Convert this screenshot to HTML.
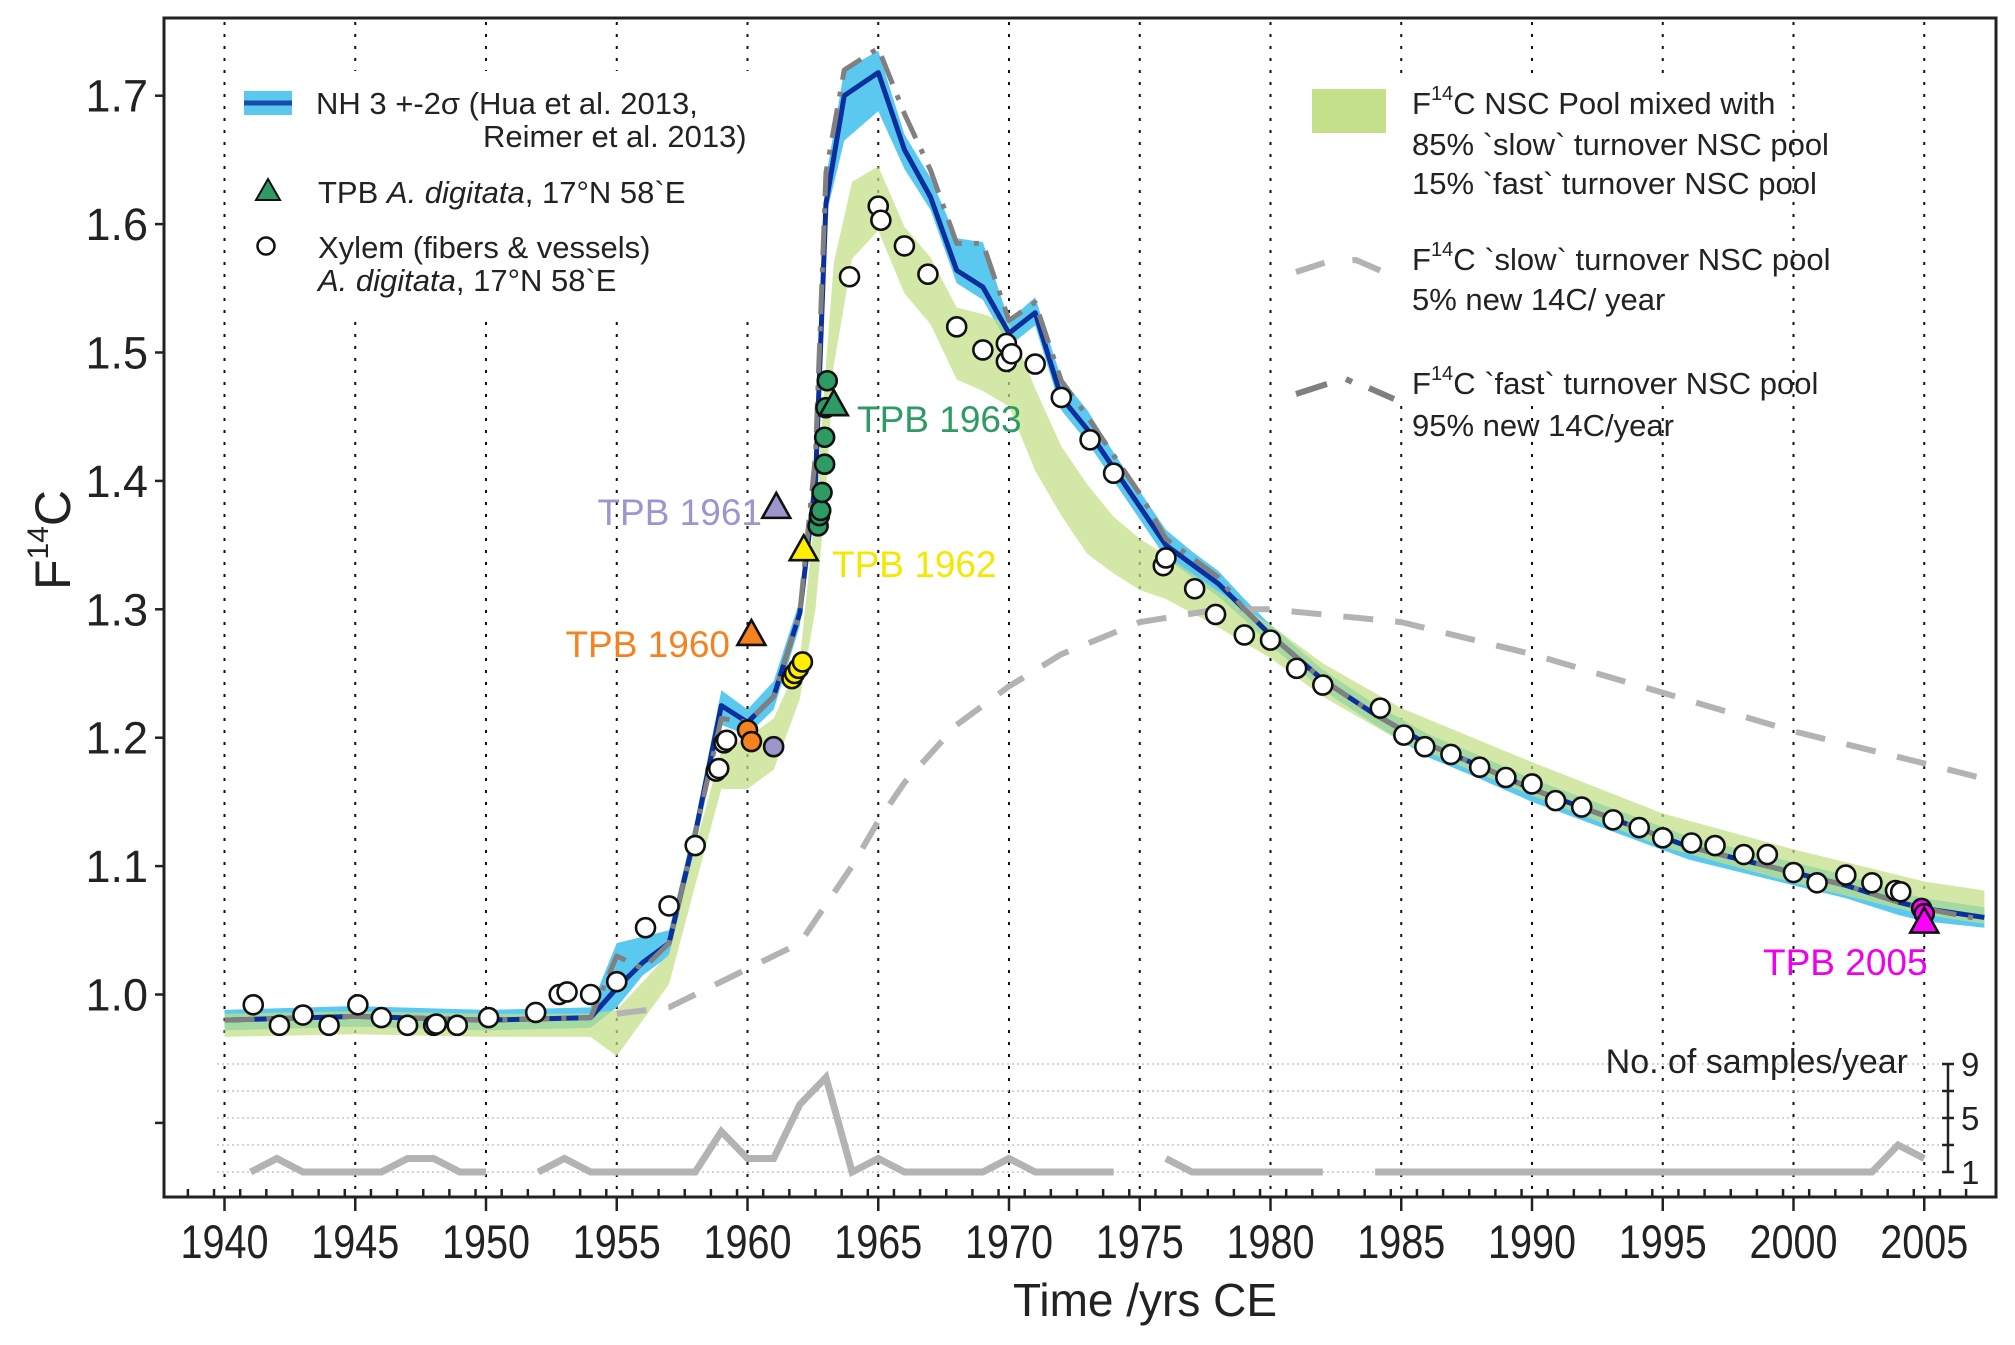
<!DOCTYPE html>
<html><head><meta charset="utf-8"><style>
html,body{margin:0;padding:0;background:#fff}
svg{display:block;font-family:"Liberation Sans",sans-serif}
</style></head><body>
<svg id="chart" width="2015" height="1345" viewBox="0 0 2015 1345" xmlns="http://www.w3.org/2000/svg">
<g id="grid"></g>
<g id="legbg">
<rect x="236" y="71" width="526" height="245" fill="#fff"/>
<rect x="1292" y="74" width="470" height="330" fill="#fff"/>
</g>
<g id="series"></g>
<g id="axes"></g>
<text transform="translate(70,540) rotate(-90)" font-size="50" text-anchor="middle" fill="#222">F<tspan font-size="30" dy="-22">14</tspan><tspan dy="22">C</tspan></text>
<g id="legend">
 <g>
  <rect x="244" y="91" width="48" height="24" fill="#5bc8f0"/>
  <line x1="244" y1="103" x2="292" y2="103" stroke="#1a4aa8" stroke-width="5"/>
  <text x="316" y="114" font-size="31" fill="#222">NH 3 +-2σ (Hua et al. 2013,</text>
  <text x="483" y="147" font-size="31" fill="#222">Reimer et al. 2013)</text>
 </g>
 <g>
  <polygon points="268,179 280,200 256,200" fill="#2e9a64" stroke="#111" stroke-width="2"/>
  <text x="318" y="203" font-size="31" fill="#222">TPB <tspan font-style="italic">A. digitata</tspan>, 17°N 58`E</text>
 </g>
 <g>
  <circle cx="266" cy="246" r="8.5" fill="#fff" stroke="#111" stroke-width="2.5"/>
  <text x="318" y="258" font-size="31" fill="#222">Xylem (fibers &amp; vessels)</text>
  <text x="318" y="291" font-size="31" fill="#222"><tspan font-style="italic">A. digitata</tspan>, 17°N 58`E</text>
 </g>
 <g>
  <rect x="1312" y="89" width="74" height="44" fill="#c5e08a"/>
  <text x="1412" y="114" font-size="31" fill="#222">F<tspan font-size="20" dy="-14">14</tspan><tspan dy="14">C NSC Pool mixed with</tspan></text>
  <text x="1412" y="155" font-size="31" fill="#222">85% `slow` turnover NSC pool</text>
  <text x="1412" y="194" font-size="31" fill="#222">15% `fast` turnover NSC pool</text>
 </g>
 <g>
  <polyline points="1296,272 1327,262 1356,260 1386,273" fill="none" stroke="#b3b3b3" stroke-width="6" stroke-dasharray="30,28"/>
  <text x="1412" y="270" font-size="31" fill="#222">F<tspan font-size="20" dy="-14">14</tspan><tspan dy="14">C `slow` turnover NSC pool</tspan></text>
  <text x="1412" y="310" font-size="31" fill="#222">5% new 14C/ year</text>
 </g>
 <g>
  <line x1="1296" y1="394" x2="1327" y2="384" stroke="#808080" stroke-width="6"/>
  <line x1="1346" y1="379" x2="1352" y2="382" stroke="#808080" stroke-width="6"/>
  <line x1="1369" y1="388" x2="1394" y2="399" stroke="#808080" stroke-width="6"/>
  <text x="1412" y="394" font-size="31" fill="#222">F<tspan font-size="20" dy="-14">14</tspan><tspan dy="14">C `fast` turnover NSC pool</tspan></text>
  <text x="1412" y="436" font-size="31" fill="#222">95% new 14C/year</text>
 </g>
</g>
<g id="labels">
 <text x="857" y="432" font-size="37" fill="#2e9a64">TPB 1963</text>
 <text x="762" y="525" font-size="37" fill="#9b97cc" text-anchor="end">TPB 1961</text>
 <text x="832" y="577" font-size="37" fill="#f5e800">TPB 1962</text>
 <text x="730" y="657" font-size="37" fill="#f5821f" text-anchor="end">TPB 1960</text>
 <text x="1763" y="975" font-size="37" fill="#ee00ee">TPB 2005</text>
 <text x="1908" y="1073" font-size="34" fill="#222" text-anchor="end">No. of samples/year</text>
</g>
<script>
// ---------- data ----------
const nhYears=[1940,1945,1950,1954,1955,1956,1957,1958,1959,1960,1961,1962,1962.6,1963,1963.7,1965,1966,1967,1968,1969,1970,1971,1972,1973,1974,1975,1976,1977,1978,1979,1980,1982,1984,1986,1988,1990,1992,1994,1996,1998,2000,2002,2004,2005,2007.3];
const nhValues=[.980,.983,.980,.982,1.005,1.025,1.04,1.125,1.225,1.212,1.232,1.297,1.40,1.616,1.70,1.718,1.658,1.621,1.564,1.551,1.515,1.531,1.465,1.44,1.41,1.38,1.35,1.335,1.32,1.30,1.28,1.245,1.218,1.195,1.178,1.16,1.145,1.13,1.115,1.105,1.095,1.085,1.072,1.067,1.06];
const nhErrUp=[.008,.008,.008,.008,.035,.02,.01,.01,.012,.01,.012,.01,.01,.02,.02,.017,.012,.015,.025,.035,.01,.012,.015,.015,.012,.012,.012,.01,.01,.008,.008,.008,.008,.008,.008,.008,.008,.008,.008,.008,.008,.008,.008,.008,.008];
const nhErrDn=[.008,.008,.008,.008,.015,.01,.01,.01,.015,.01,.01,.01,.01,.01,.035,.03,.015,.01,.01,.01,.01,.01,.01,.01,.01,.01,.01,.01,.01,.008,.008,.008,.008,.01,.01,.01,.01,.01,.01,.01,.01,.01,.01,.01,.008];
const fastValues=[.980,.983,.980,.982,1.03,1.02,1.04,1.125,1.215,1.212,1.232,1.297,1.42,1.64,1.72,1.737,1.686,1.642,1.585,1.585,1.525,1.539,1.478,1.45,1.42,1.39,1.355,1.34,1.325,1.30,1.28,1.245,1.218,1.195,1.178,1.16,1.145,1.13,1.115,1.105,1.095,1.085,1.072,1.067,1.058];
const mixYears=[1940,1945,1950,1954,1955,1956,1957,1958,1959,1960,1961,1962,1962.6,1963,1963.3,1964,1965,1966,1967,1968,1969,1970,1971,1972,1973,1974,1975,1976,1978,1980,1982,1985,1990,1995,2000,2005,2007.3];
const mixMid=[.976,.978,.976,.976,.97,.995,1.02,1.10,1.175,1.18,1.195,1.245,1.34,1.44,1.53,1.603,1.62,1.572,1.548,1.507,1.50,1.49,1.44,1.40,1.37,1.35,1.335,1.325,1.30,1.275,1.245,1.21,1.168,1.128,1.10,1.075,1.068];
const mixHalf=[.009,.009,.009,.009,.018,.015,.012,.015,.015,.02,.02,.015,.04,.05,.04,.03,.025,.026,.026,.028,.03,.032,.032,.027,.027,.022,.02,.017,.014,.013,.013,.013,.013,.013,.013,.013,.013];
const slowYears=[1955,1957,1958,1960,1962,1963,1964,1965,1966,1968,1970,1972,1975,1978,1980,1985,1990,1995,2000,2005,2007.3];
const slowValues=[.985,.99,1.0,1.02,1.04,1.07,1.10,1.135,1.165,1.21,1.24,1.265,1.29,1.30,1.30,1.29,1.265,1.235,1.205,1.18,1.168];
const xylemYears=[1941.1,1942.1,1943,1944,1945.1,1946,1947,1948,1948.1,1948.9,1950.1,1951.9,1952.8,1953.1,1954,1955,1956.1,1957,1958,1958.8,1958.9,1959.1,1959.2,1963.9,1965,1965.1,1966,1966.9,1968,1969,1969.9,1969.9,1970.1,1971,1972,1973.1,1974,1975.9,1976,1977.1,1977.9,1979,1980,1981,1982,1984.2,1985.1,1985.9,1986.9,1988,1989,1990,1990.9,1991.9,1993.1,1994.1,1995,1996.1,1997,1998.1,1999,2000,2000.9,2002,2003,2003.9,2004.1];
const xylemValues=[.992,.976,.984,.976,.992,.982,.976,.976,.977,.976,.982,.986,1.0,1.002,1.0,1.01,1.052,1.069,1.116,1.174,1.176,1.196,1.198,1.559,1.614,1.603,1.583,1.561,1.52,1.502,1.507,1.493,1.499,1.491,1.465,1.432,1.406,1.334,1.34,1.316,1.296,1.28,1.276,1.254,1.241,1.223,1.202,1.193,1.187,1.177,1.169,1.164,1.151,1.146,1.136,1.13,1.122,1.118,1.116,1.109,1.109,1.095,1.087,1.093,1.087,1.081,1.08];
const orangeYears=[1960,1960.15], orangeValues=[1.206,1.197];
const purpleYears=[1961], purpleValues=[1.193];
const yellowYears=[1961.7,1961.8,1961.95,1962.1], yellowValues=[1.246,1.25,1.254,1.259];
const greenYears=[1962.7,1962.75,1962.8,1962.85,1962.95,1962.95,1963,1963.05], greenValues=[1.365,1.373,1.377,1.391,1.413,1.434,1.457,1.478];
const magentaYears=[2004.9,2005], magentaValues=[1.067,1.063];
const triYears=[1960.15,1961.1,1962.15,1963.3,2005], triValues=[1.28,1.379,1.346,1.459,1.056];
const triColors=['#f5821f','#9b97cc','#ffee00','#2e9a64','#ff00ff'];
const triNames=['tpb-1960','tpb-1961','tpb-1962','tpb-1963','tpb-2005'];
const sampleYears=[1941,1942,1943,1944,1945,1946,1947,1948,1949,1950,1951,1952,1953,1954,1955,1956,1957,1958,1959,1960,1961,1962,1963,1964,1965,1966,1967,1968,1969,1970,1971,1972,1973,1974,1975,1976,1977,1978,1979,1980,1981,1982,1983,1984,1990,1995,2000,2002,2003,2004,2005];
const sampleCounts=[1,2,1,1,1,1,2,2,1,1,null,1,2,1,1,1,1,1,4,2,2,6,8,1,2,1,1,1,1,2,1,1,1,1,null,2,1,1,1,1,1,1,null,1,1,1,1,1,1,3,2];
const xTicks=[1940,1945,1950,1955,1960,1965,1970,1975,1980,1985,1990,1995,2000,2005];
const yTicks=[1.0,1.1,1.2,1.3,1.4,1.5,1.6,1.7];
const yTickLabels=['1.0','1.1','1.2','1.3','1.4','1.5','1.6','1.7'];
const sampleTicks=[1,5,9];
// ---------- scales ----------
const X0=164,X1=1996,Y0=18,Y1=1197;
function x(yr){return 224.5+(yr-1940)*26.15;}
function y(v){return 95.7+(1.7-v)*1284;}
function ys(c){return 1172-(c-1)*13.5;}
const NS='http://www.w3.org/2000/svg';
function mk(tag,attrs,parent){const e=document.createElementNS(NS,tag);for(const k in attrs)e.setAttribute(k,attrs[k]);parent.appendChild(e);return e;}
const grid=document.getElementById('grid'),ser=document.getElementById('series'),ax=document.getElementById('axes');
xTicks.forEach(t=>{const l=mk('line',{x1:x(t),x2:x(t),y1:Y0+4,y2:Y1-4,stroke:'#111','stroke-width':2,'stroke-dasharray':'3,9'},grid);

});
[1,3,5,7,9].forEach(c=>{const l=mk('line',{x1:217,x2:1940,y1:ys(c),y2:ys(c),stroke:'#bbb','stroke-width':1.2,'stroke-dasharray':'2,3'},grid);

});
function band(xs,lo,hi,fill,op,name){let d='M'+xs.map((t,i)=>x(t)+','+y(hi[i])).join('L');
for(let i=xs.length-1;i>=0;i--)d+='L'+x(xs[i])+','+y(lo[i]);d+='Z';
const p=mk('path',{d:d,fill:fill,'fill-opacity':op},ser);

}
band(nhYears,nhValues.map((v,i)=>v-nhErrDn[i]),nhValues.map((v,i)=>v+nhErrUp[i]),'#5bc8f0',1,'nh-band');
band(mixYears,mixMid.map((v,i)=>v-mixHalf[i]),mixMid.map((v,i)=>v+mixHalf[i]),'#c2df84',0.72,'mixed-pool-band');
function line(xs,vs,attrs,name){const p=mk('polyline',Object.assign({points:xs.map((t,i)=>x(t)+','+y(vs[i])).join(' '),fill:'none','stroke-linejoin':'round'},attrs),ser);

}
line(slowYears,slowValues,{stroke:'#b3b3b3','stroke-width':6,'stroke-dasharray':'30,22'},'slow-pool-line');
line(nhYears,nhValues,{stroke:'#0b2f9c','stroke-width':5},'nh-line');
line(nhYears,fastValues,{stroke:'#808080','stroke-width':5,'stroke-dasharray':'30,12,5,12'},'fast-pool-line');
let seg=[];const segs=[];sampleYears.forEach((t,i)=>{if(sampleCounts[i]==null){if(seg.length)segs.push(seg);seg=[];}else seg.push(x(t)+','+ys(sampleCounts[i]));});if(seg.length)segs.push(seg);
segs.forEach(s=>{const p=mk('polyline',{points:s.join(' '),fill:'none',stroke:'#b3b3b3','stroke-width':7},ser);

});
function dots(xs,vs,fill,name){xs.forEach((t,i)=>{const c=mk('circle',{cx:x(t),cy:y(vs[i]),r:9.5,fill:fill,stroke:'#111','stroke-width':2.6},ser);

});}
dots(xylemYears,xylemValues,'#fff','xylem-point');
dots(orangeYears,orangeValues,'#f5821f','point-1960');
dots(purpleYears,purpleValues,'#9b97cc','point-1961');
dots(yellowYears,yellowValues,'#ffee00','point-1962');
dots(greenYears,greenValues,'#2e9a64','point-1963');
dots(magentaYears,magentaValues,'#ff00ff','point-2005');
triYears.forEach((t,i)=>{const cx=x(t),cy=y(triValues[i]);const p=mk('polygon',{points:`${cx},${cy-15} ${cx+14},${cy+10} ${cx-14},${cy+10}`,fill:triColors[i],stroke:'#111','stroke-width':2.6},ser);

});
const fr=mk('rect',{x:X0,y:Y0,width:X1-X0,height:Y1-Y0,fill:'none',stroke:'#222','stroke-width':3},ax);


for(let k=1938;k<=2006;k++){const t=mk('line',{x1:x(k+0.6),x2:x(k+0.6),y1:Y1,y2:Y1-8,stroke:'#222','stroke-width':2.5},ax);

}
xTicks.forEach(t=>{const l=mk('line',{x1:x(t),x2:x(t),y1:Y1,y2:Y1+14,stroke:'#222','stroke-width':2.5},ax);


const tx=mk('text',{x:x(t),y:1258,'font-size':47,'text-anchor':'middle',fill:'#222',textLength:88,lengthAdjust:'spacingAndGlyphs'},ax);tx.textContent=t;

});
yTicks.forEach((v,i)=>{const l=mk('line',{x1:X0,x2:X0-9,y1:y(v),y2:y(v),stroke:'#222','stroke-width':2.5},ax);


const tx=mk('text',{x:148,y:y(v)+16,'font-size':45,'text-anchor':'end',fill:'#222'},ax);tx.textContent=yTickLabels[i];

});
const t9=mk('line',{x1:X0,x2:X0-9,y1:y(0.9),y2:y(0.9),stroke:'#222','stroke-width':2.5},ax);


const sa=mk('line',{x1:1948,x2:1948,y1:ys(9),y2:ys(1),stroke:'#222','stroke-width':2.5},ax);


[1,3,5,7,9].forEach(c=>{const l=mk('line',{x1:1942,x2:1954,y1:ys(c),y2:ys(c),stroke:'#222','stroke-width':2.5},ax);

});
sampleTicks.forEach(c=>{const tx=mk('text',{x:1961,y:ys(c)+12,'font-size':33,fill:'#222'},ax);tx.textContent=c;

});
const xt=mk('text',{x:1145,y:1316,'font-size':46,'text-anchor':'middle',fill:'#222'},ax);xt.textContent='Time /yrs CE';


</script>
</svg>
</body></html>
